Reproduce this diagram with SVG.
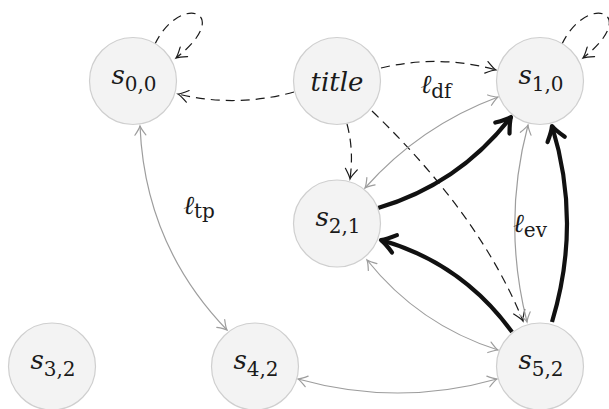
<svg xmlns="http://www.w3.org/2000/svg" width="609" height="409" viewBox="0 0 609 409">
  <style>
    .node { fill: #f3f3f3; stroke: #cfcfcf; stroke-width: 1.2; }
    .edge { fill: none; }
    .dash { stroke: #1a1a1a; stroke-width: 1.2; stroke-dasharray: 9 6; marker-end: url(#headDash); }
    .grey { stroke: #9d9d9d; stroke-width: 1.2; marker-start: url(#headGrey); marker-end: url(#headGrey); }
    .bold { stroke: #111; stroke-width: 4.2; marker-end: url(#headBold); }
    text { font-family: "DejaVu Serif", serif; font-size: 26px; fill: #1a1a1a; text-anchor: middle; }
    .it { font-style: italic; }
    .sub { font-size: 20px; font-style: normal; }
  </style>
  <defs>
    <marker id="headDash" markerUnits="userSpaceOnUse" orient="auto" refX="0" refY="0" markerWidth="20" markerHeight="20" overflow="visible">
      <path d="M-10,-6 Q-3,-1 0,0 Q-3,1 -10,6" fill="none" stroke="#1a1a1a" stroke-width="1.2" stroke-dasharray="none" stroke-linecap="round"/>
    </marker>
    <marker id="headGrey" markerUnits="userSpaceOnUse" orient="auto-start-reverse" refX="0" refY="0" markerWidth="20" markerHeight="20" overflow="visible">
      <path d="M-9,-5.5 Q-3,-1 0,0 Q-3,1 -9,5.5" fill="none" stroke="#9d9d9d" stroke-width="1.2" stroke-linecap="round"/>
    </marker>
    <marker id="headBold" markerUnits="userSpaceOnUse" orient="auto" refX="0" refY="0" markerWidth="30" markerHeight="30" overflow="visible">
      <path d="M-14,-9 Q-5,-2 0,0 Q-5,2 -14,9" fill="none" stroke="#111" stroke-width="4.2" stroke-linecap="round" stroke-linejoin="round"/>
    </marker>
  </defs>

  <g id="connectors">
    <!-- self loops -->
    <path class="edge dash" d="M155,44 C180,-8 235,12 176,58"/>
    <path class="edge dash" d="M562,44 C587,-8 642,12 583,58"/>
    <!-- from title -->
    <path class="edge dash" d="M294,92 Q236,108 178,94"/>
    <path class="edge dash" d="M381,68 Q439,54 496,70"/>
    <path class="edge dash" d="M347,124 Q354,150 350,179"/>
    <path class="edge dash" d="M372,111 Q480,215 523,321"/>
    <!-- grey two-way links -->
    <path class="edge grey" d="M498,97 Q420,126 365,188"/>
    <path class="edge grey" d="M528,125 Q502,223 527,322"/>
    <path class="edge grey" d="M367,260 Q419,325 498,350"/>
    <path class="edge grey" d="M298,379 Q398,407 497,379"/>
    <path class="edge grey" d="M140,126 Q145,245 227,330"/>
    <!-- bold paths -->
    <path class="edge bold" d="M378,208 Q459,184 511,117"/>
    <path class="edge bold" d="M552,322 Q582,223 552,126"/>
    <path class="edge bold" d="M512,332 Q462,263 381,240"/>
    <!-- edge labels -->
    <text x="436" y="93"><tspan class="it">ℓ</tspan><tspan class="sub" dy="5">df</tspan></text>
    <text x="530" y="232"><tspan class="it">ℓ</tspan><tspan class="sub" dy="5">ev</tspan></text>
    <text x="199" y="214"><tspan class="it">ℓ</tspan><tspan class="sub" dy="4">tp</tspan></text>
  </g>

  <g id="s00">
    <circle class="node" cx="133" cy="81" r="43.5"/>
    <text x="134" y="84"><tspan class="it">s</tspan><tspan class="sub" dy="7">0,0</tspan></text>
  </g>
  <g id="title">
    <circle class="node" cx="337" cy="81" r="43.5"/>
    <text x="337" y="91" class="it">title</text>
  </g>
  <g id="s10">
    <circle class="node" cx="540" cy="81" r="43.5"/>
    <text x="541" y="84"><tspan class="it">s</tspan><tspan class="sub" dy="7">1,0</tspan></text>
  </g>
  <g id="s21">
    <circle class="node" cx="337" cy="223.5" r="43.5"/>
    <text x="338" y="226"><tspan class="it">s</tspan><tspan class="sub" dy="7">2,1</tspan></text>
  </g>
  <g id="s32">
    <circle class="node" cx="52" cy="366.5" r="43.5"/>
    <text x="53" y="369"><tspan class="it">s</tspan><tspan class="sub" dy="7">3,2</tspan></text>
  </g>
  <g id="s42">
    <circle class="node" cx="255" cy="366.5" r="43.5"/>
    <text x="256" y="369"><tspan class="it">s</tspan><tspan class="sub" dy="7">4,2</tspan></text>
  </g>
  <g id="s52">
    <circle class="node" cx="540" cy="366.5" r="43.5"/>
    <text x="541" y="369"><tspan class="it">s</tspan><tspan class="sub" dy="7">5,2</tspan></text>
  </g>
</svg>
